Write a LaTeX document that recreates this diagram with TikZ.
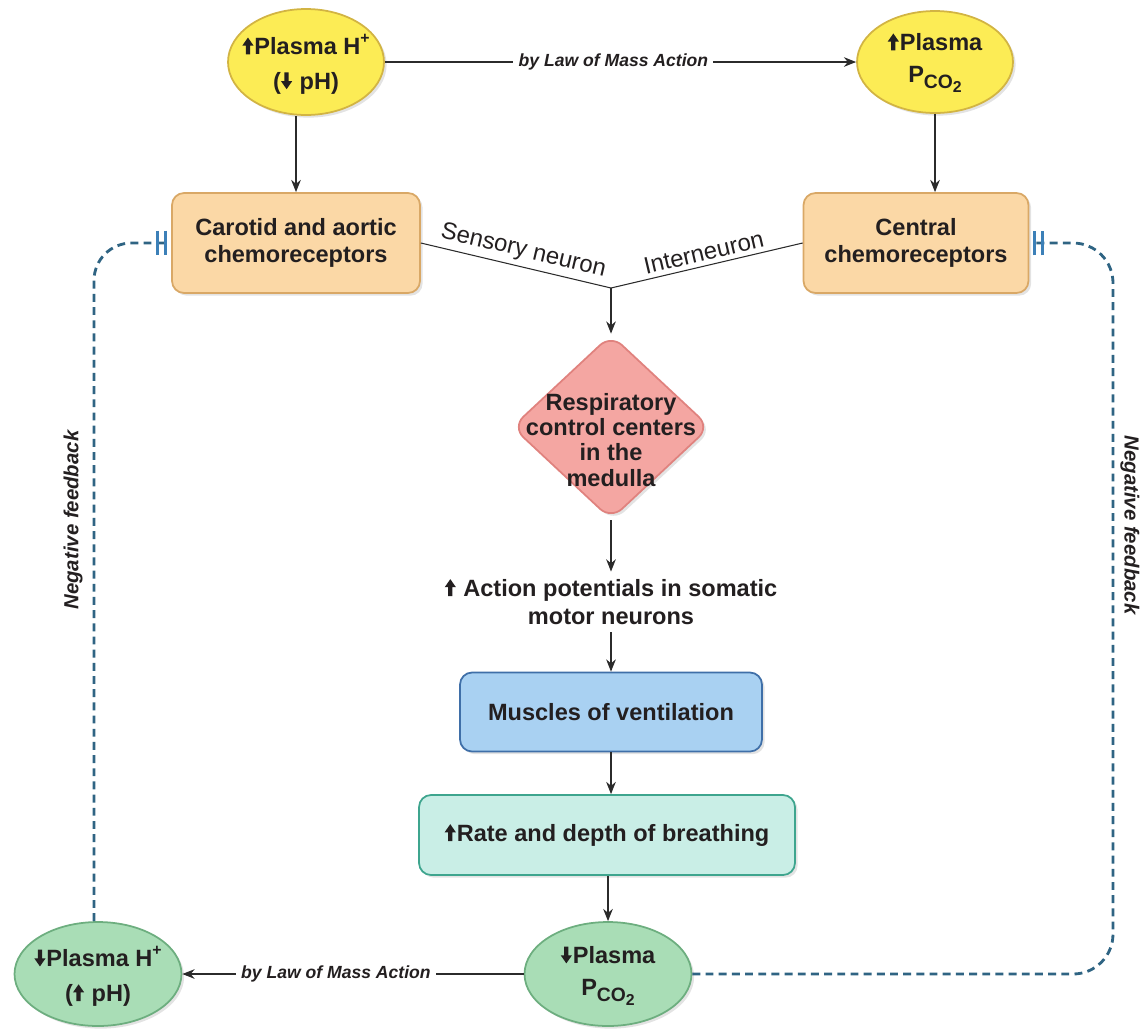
\documentclass[tikz,border=0pt]{standalone}
\usepackage{fontspec}
\setmainfont{Liberation Sans}
\usetikzlibrary{arrows.meta,shapes.geometric,shadows,calc}

\definecolor{txtc}{HTML}{231F20}
\definecolor{linec}{HTML}{2B2B2B}
\definecolor{yelf}{HTML}{FCEC55}
\definecolor{yeld}{HTML}{D2B443}
\definecolor{orf}{HTML}{FBD8A6}
\definecolor{ord}{HTML}{D9A866}
\definecolor{pinkf}{HTML}{F4A6A2}
\definecolor{pinkd}{HTML}{E0827E}
\definecolor{bluef}{HTML}{A9D1F2}
\definecolor{blued}{HTML}{3F6FA8}
\definecolor{tealf}{HTML}{C9EEE6}
\definecolor{teald}{HTML}{3EA58E}
\definecolor{greenf}{HTML}{A9DDB6}
\definecolor{greend}{HTML}{6DAE7F}
\definecolor{fbc}{HTML}{2F6483}
\definecolor{barc}{HTML}{3C80B8}

% thick filled arrows drawn with the basic layer (no inherited TikZ styles)
\newcommand{\arrowglyph}[1]{%
  \begin{pgfpicture}%
    \pgfsetcornersarced{\pgfpointorigin}%
    \pgfsetfillcolor{txtc}%
    \pgfsetstrokecolor{txtc}%
    \ifnum#1=1
      \pgfpathmoveto{\pgfpoint{0pt}{9.6pt}}%
      \pgfpathlineto{\pgfpoint{3.2pt}{5pt}}%
      \pgfpathlineto{\pgfpoint{1.2pt}{5pt}}%
      \pgfpathlineto{\pgfpoint{1.2pt}{0pt}}%
      \pgfpathlineto{\pgfpoint{-1.2pt}{0pt}}%
      \pgfpathlineto{\pgfpoint{-1.2pt}{5pt}}%
      \pgfpathlineto{\pgfpoint{-3.2pt}{5pt}}%
    \else
      \pgfpathmoveto{\pgfpoint{0pt}{0pt}}%
      \pgfpathlineto{\pgfpoint{3.2pt}{4.6pt}}%
      \pgfpathlineto{\pgfpoint{1.2pt}{4.6pt}}%
      \pgfpathlineto{\pgfpoint{1.2pt}{9.6pt}}%
      \pgfpathlineto{\pgfpoint{-1.2pt}{9.6pt}}%
      \pgfpathlineto{\pgfpoint{-1.2pt}{4.6pt}}%
      \pgfpathlineto{\pgfpoint{-3.2pt}{4.6pt}}%
    \fi
    \pgfpathclose
    \pgfusepath{fill}%
  \end{pgfpicture}}
\newcommand{\UA}{\arrowglyph{1}\hspace{0.5pt}}
\newcommand{\DA}{\arrowglyph{0}\hspace{0.5pt}}
\newcommand{\PCO}{P\raisebox{-0.45ex}{\fontsize{11}{11}\selectfont CO\raisebox{-0.45ex}{\fontsize{9}{9}\selectfont 2}}}
\newcommand{\Hplus}{H\raisebox{0.9ex}{\fontsize{9}{9}\selectfont +}}

\begin{document}
\begin{tikzpicture}[x=0.02cm,y=-0.02cm,
  txt/.style={font=\fontsize{13.4}{15.3}\selectfont\bfseries, text=txtc, align=center, inner sep=0pt},
  shd/.style={drop shadow={opacity=0.22,shadow xshift=1.5pt,shadow yshift=-1.5pt}},
  box/.style={rectangle, rounded corners=0.24cm, line width=1pt, shd, txt},
  ell/.style={ellipse, inner sep=0pt, line width=1pt, shd},
  arr/.style={draw=linec, line width=0.7pt, -{Stealth[length=7pt,width=5.5pt]}},
  lab/.style={font=\fontsize{10}{12}\selectfont\bfseries\itshape, text=txtc, fill=white, inner xsep=3pt, inner ysep=1pt},
  nl/.style={font=\fontsize{13.6}{15}\selectfont, text=txtc, inner sep=2.5pt},
  fbl/.style={font=\fontsize{11.6}{13}\selectfont\bfseries\itshape, text=txtc, inner sep=0pt},
  fb/.style={draw=fbc, line width=1.6pt, dash pattern=on 4.5pt off 3pt,
    -{Bar[width=14pt,line width=1.6pt,color=barc,sep=3pt]Bar[width=14pt,line width=1.6pt,color=barc,sep=0pt]}}
]
\useasboundingbox (0,0) rectangle (1142,1029);

% top ellipses
\node[ell, fill=yelf, draw=yeld, minimum width=3.12cm, minimum height=2.12cm] (hp) at (306,62) {};
\node[txt] (hpt) at (306,64) {\UA Plasma \Hplus\\[4.5pt](\DA\ pH)};
\node[ell, fill=yelf, draw=yeld, minimum width=3.12cm, minimum height=2.04cm] (pc) at (935,62) {};
\node[txt] (pct) at (935,63) {\UA Plasma\\[3pt]\PCO};

\draw[arr] (hp.east) -- node[lab, pos=0.485] {by Law of Mass Action} (pc.west);

% receptor boxes
\node[box, fill=orf, draw=ord, minimum width=4.96cm, minimum height=2cm] (car) at (296,243) {Carotid and aortic\\chemoreceptors};
\node[box, fill=orf, draw=ord, minimum width=4.5cm, minimum height=2cm] (cen) at (916,243) {Central\\chemoreceptors};

\draw[arr] (car.north |- hp.south) -- (car.north);
\draw[arr] (pc.south) -- (pc.south |- cen.north);

% neurons
\coordinate (j) at (611,288);
\draw[draw=linec, line width=0.6pt] (car.east) -- node[sloped, above, nl, pos=0.52] {Sensory neuron} (j);
\draw[draw=linec, line width=0.6pt] (j) -- node[sloped, above, nl] {Interneuron} (cen.west);

% medulla
\node[diamond, fill=pinkf, draw=pinkd, minimum width=3.96cm, minimum height=3.7cm, inner sep=0pt, rounded corners=0.3cm, line width=1pt, shd] (rcc) at (611,427) {};
\node[txt, font=\fontsize{13.4}{14.3}\selectfont\bfseries] (rcct) at (611,440) {Respiratory\\control centers\\in the\\medulla};
\draw[arr] (j) -- (rcc.north);

\node[txt, font=\fontsize{13.4}{16.4}\selectfont\bfseries, inner sep=4pt] (ap) at (611,602) {\UA\ Action potentials in somatic\\motor neurons};
\draw[arr] (rcc.south) -- (ap.north);

\node[box, fill=bluef, draw=blued, minimum width=6.04cm, minimum height=1.58cm] (mus) at (611,712) {Muscles of ventilation};
\draw[arr] (ap.south) -- (mus.north);

\node[box, fill=tealf, draw=teald, minimum width=7.52cm, minimum height=1.6cm] (rate) at (607,835) {\UA Rate and depth of breathing};
\draw[arr] (mus.south) -- (mus.south |- rate.north);

% bottom ellipses
\node[ell, fill=greenf, draw=greend, minimum width=3.34cm, minimum height=2.08cm] (hc) at (608,974) {};
\node[txt] (hct) at (608,976) {\DA Plasma\\[3pt]\PCO};
\node[ell, fill=greenf, draw=greend, minimum width=3.34cm, minimum height=2.08cm] (hl) at (98,974) {};
\node[txt] (hlt) at (98,976) {\DA Plasma \Hplus\\[4.5pt](\UA\ pH)};

\draw[arr] (rate.south -| hc.north) -- (hc.north);
\draw[arr] (hc.west) -- node[lab, pos=0.55] {by Law of Mass Action} (hl.east);

% negative feedback
\coordinate (lb) at ($(car.west)+(-4,0)$);
\coordinate (rb) at ($(cen.east)+(4,0)$);
\coordinate (rc) at (1113,243);
\draw[fb, rounded corners=0.75cm] ($(hl.north)+(-4,0)$) |- (lb);
\draw[fb, rounded corners=0.8cm] (hc.east) -| (rc) -- (rb);

\node[fbl, rotate=90] (nfl) at (73,520) {Negative feedback};
\node[fbl, rotate=-90] (nfr) at (1130,525) {Negative feedback};
\end{tikzpicture}
\end{document}
